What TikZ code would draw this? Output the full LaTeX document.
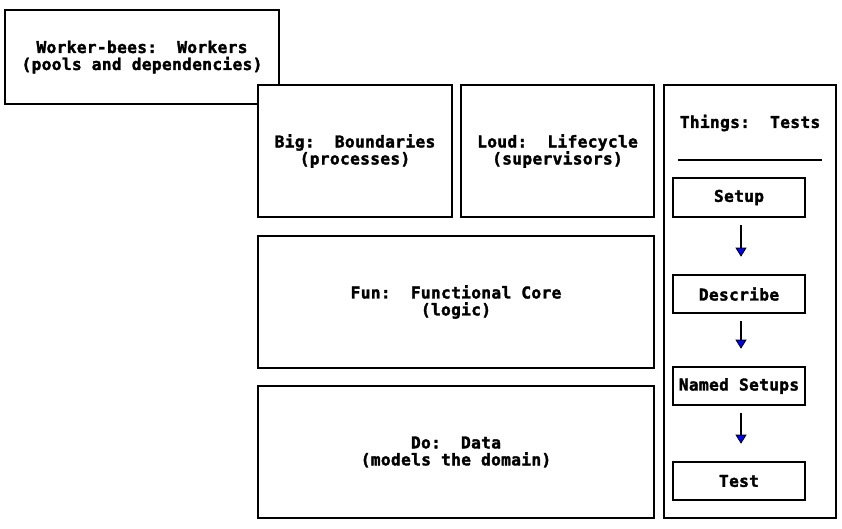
\documentclass[tikz,border=0pt]{standalone}
\usepackage{fontspec}
\newfontfamily\codefont[LetterSpace=2,FakeBold=2]{DejaVu Sans Mono Bold}
\usetikzlibrary{arrows.meta}
\tikzset{
  box/.style={draw=black, line width=2.6pt, fill=white, rectangle, inner sep=0pt, align=center,
    font=\fontsize{16.2}{17}\selectfont\codefont},
  label/.style={inner sep=0pt, align=center, font=\fontsize{16.2}{17}\selectfont\codefont},
  flow/.style={line width=2.2pt, -{Triangle[width=11pt,length=9pt,fill=blue,line width=0.8pt]}, shorten <=7pt, shorten >=17pt},
}
\begin{document}
\begin{tikzpicture}[x=1pt,y=-1pt]
\useasboundingbox (0,0) rectangle (842,528);
\node (worker) [box, minimum width=274pt, minimum height=94pt] at (142,57) {Worker-bees:\ \ Workers\\(pools and dependencies)};
\node (big) [box, minimum width=194pt, minimum height=132pt] at (355,151) {Big:\ \ Boundaries\\(processes)};
\node (loud) [box, minimum width=193pt, minimum height=132pt] at (557.5,151) {Loud:\ \ Lifecycle\\(supervisors)};
\node (fun) [box, minimum width=396pt, minimum height=132pt] at (456,302) {Fun:\ \ Functional Core\\(logic)};
\node (do) [box, minimum width=396pt, minimum height=132pt] at (456,452) {Do:\ \ Data\\(models the domain)};
\node (things) [box, minimum width=172pt, minimum height=433pt] at (750,301.5) {};
\node (title) [label] at (750,123) {Things:\ \ Tests};
\coordinate (ruleL) at (678,160);
\coordinate (ruleR) at (822,160);
\draw[line width=2.2pt] (ruleL) -- (ruleR);
\node (setup) [box, minimum width=132pt, minimum height=39pt] at (739,197.5) {Setup};
\node (describe) [box, minimum width=132pt, minimum height=38pt] at (739,294) {Describe};
\node (named) [box, minimum width=132pt, minimum height=38pt] at (739,386) {Named Setups};
\node (test) [box, minimum width=132pt, minimum height=38pt] at (739,481) {Test};
\draw[flow] ([xshift=2pt]setup.south) -- ([xshift=2pt]describe.north);
\draw[flow] ([xshift=2pt]describe.south) -- ([xshift=2pt]named.north);
\draw[flow] ([xshift=2pt]named.south) -- ([xshift=2pt]test.north);
\end{tikzpicture}
\end{document}
